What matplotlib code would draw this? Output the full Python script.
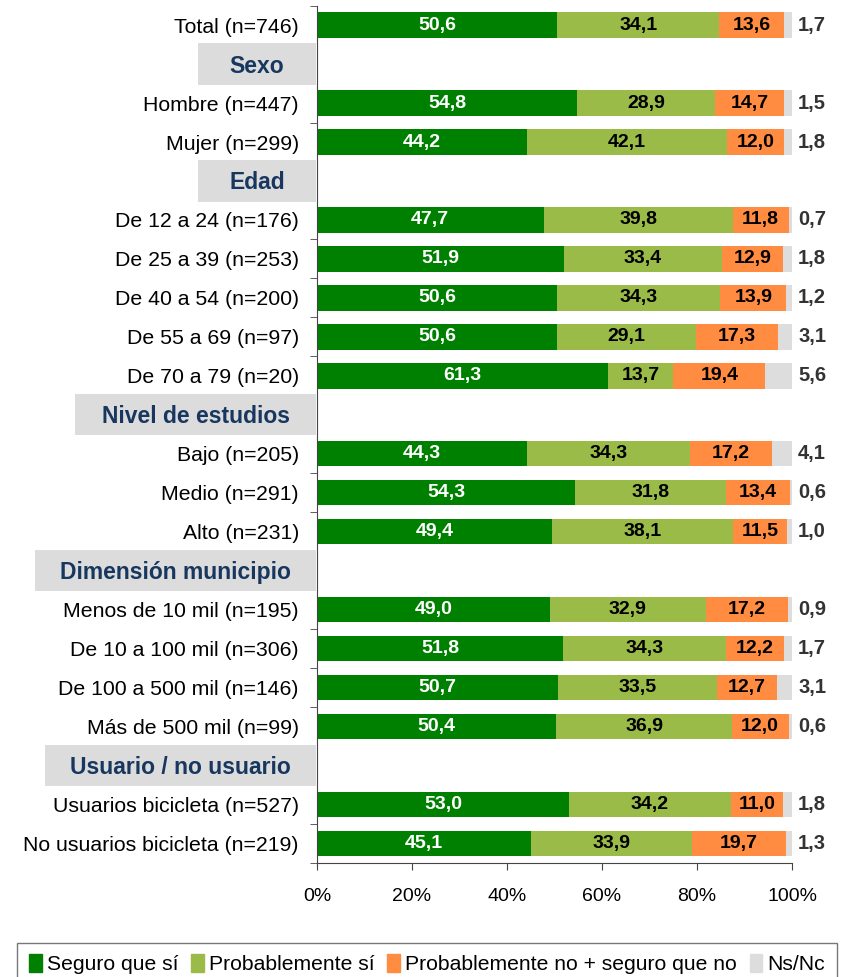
import numpy as np
import matplotlib.pyplot as plt
import matplotlib.transforms as mtransforms
from matplotlib.patches import Rectangle

plt.rcParams['font.family'] = ['Liberation Sans', 'DejaVu Sans']

# one entry per row; group headers have None values
labels = ["Total (n=746)", "Sexo", "Hombre (n=447)", "Mujer (n=299)", "Edad",
          "De 12 a 24 (n=176)", "De 25 a 39 (n=253)", "De 40 a 54 (n=200)",
          "De 55 a 69 (n=97)", "De 70 a 79 (n=20)", "Nivel de estudios",
          "Bajo (n=205)", "Medio (n=291)", "Alto (n=231)", "Dimensión municipio",
          "Menos de 10 mil (n=195)", "De 10 a 100 mil (n=306)",
          "De 100 a 500 mil (n=146)", "Más de 500 mil (n=99)",
          "Usuario / no usuario", "Usuarios bicicleta (n=527)",
          "No usuarios bicicleta (n=219)"]
headers = [1, 4, 10, 14, 19]

seguro = [50.6, None, 54.8, 44.2, None, 47.7, 51.9, 50.6, 50.6, 61.3, None,
          44.3, 54.3, 49.4, None, 49.0, 51.8, 50.7, 50.4, None, 53.0, 45.1]
prob_si = [34.1, None, 28.9, 42.1, None, 39.8, 33.4, 34.3, 29.1, 13.7, None,
           34.3, 31.8, 38.1, None, 32.9, 34.3, 33.5, 36.9, None, 34.2, 33.9]
prob_no = [13.6, None, 14.7, 12.0, None, 11.8, 12.9, 13.9, 17.3, 19.4, None,
           17.2, 13.4, 11.5, None, 17.2, 12.2, 12.7, 12.0, None, 11.0, 19.7]
nsnc = [1.7, None, 1.5, 1.8, None, 0.7, 1.8, 1.2, 3.1, 5.6, None,
        4.1, 0.6, 1.0, None, 0.9, 1.7, 3.1, 0.6, None, 1.8, 1.3]

series_names = ["Seguro que sí", "Probablemente sí",
                "Probablemente no + seguro que no", "Ns/Nc"]
colors = ["#008000", "#9BBB48", "#FF8C40", "#DDDDDD"]
text_colors = ["white", "black", "black"]

# left edge (pixels) of the grey header boxes
header_left_px = [198, 198, 75, 35, 45]

W, H = 847, 977
AX_L, AX_R = 317, 792
fig = plt.figure(figsize=(W / 100, H / 100), dpi=100)
ax = fig.add_axes([AX_L / W, 1 - 863 / H, (AX_R - AX_L) / W, (863 - 5.6) / H])

rows = [i for i in range(len(labels)) if i not in headers]
series = [seguro, prob_si, prob_no, nsnc]
left = np.zeros(len(rows))
for k, s in enumerate(series):
    vals = np.array([s[i] for i in rows])
    ax.barh(rows, vals, left=left, height=0.65, color=colors[k], zorder=2)
    for r, v, l in zip(rows, vals, left):
        txt = f"{v:.1f}".replace(".", ",")
        if k < 3:
            ax.text(l + v / 2, r, txt, ha="center", va="center",
                    color=text_colors[k], fontsize=14, fontweight="bold",
                    zorder=3)
        else:
            ax.text(101.3, r, txt, ha="left", va="center", color="#333333",
                    fontsize=14.5, fontweight="bold", clip_on=False)
    left = left + vals

ax.set_xlim(0, 100)
ax.set_ylim(len(labels) - 0.5, -0.5)
ax.set_xticks(np.arange(0, 101, 20))
ax.set_xticklabels([f"{t}%" for t in range(0, 101, 20)], fontsize=14)
ax.tick_params(axis="x", length=5, pad=13, color="#444444")
ax.set_yticks(rows)
ax.set_yticklabels([labels[i] for i in rows], fontsize=15.3)
ax.tick_params(axis="y", length=0, pad=13)
bounds = [b + 0.5 for b in range(-1, len(labels))
          if b not in headers and b + 1 not in headers]
ax.set_yticks(bounds, minor=True)
ax.tick_params(axis="y", which="minor", length=5, color="#444444")
for sp in ["top", "right"]:
    ax.spines[sp].set_visible(False)
ax.spines["left"].set_color("#444444")
ax.spines["bottom"].set_color("#444444")

trans = mtransforms.blended_transform_factory(fig.transFigure, ax.transData)
for h, lp in zip(headers, header_left_px):
    x0 = lp / W
    x1 = (AX_L - 1) / W
    rect = Rectangle((x0, h - 0.53), x1 - x0, 1.06, transform=trans,
                     facecolor="#DCDCDC", edgecolor="none", clip_on=False,
                     zorder=5)
    ax.add_patch(rect)
    ax.text((x0 + x1) / 2, h + 0.05, labels[h], transform=trans, ha="center",
            va="center", fontsize=16.5, fontweight="bold", color="#17375E",
            zorder=6, clip_on=False)

handles = [Rectangle((0, 0), 1, 1, color=c) for c in colors]
leg = fig.legend(handles, series_names, loc="lower center",
                 bbox_to_anchor=(427 / W, -0.02), ncol=4, fontsize=15.2,
                 frameon=True, fancybox=False, edgecolor="#555555",
                 handlelength=0.6, handleheight=0.9, handletextpad=0.25,
                 columnspacing=0.6, borderpad=0.55)
leg.get_frame().set_linewidth(1.0)

fig.savefig("out.png", dpi=100)
